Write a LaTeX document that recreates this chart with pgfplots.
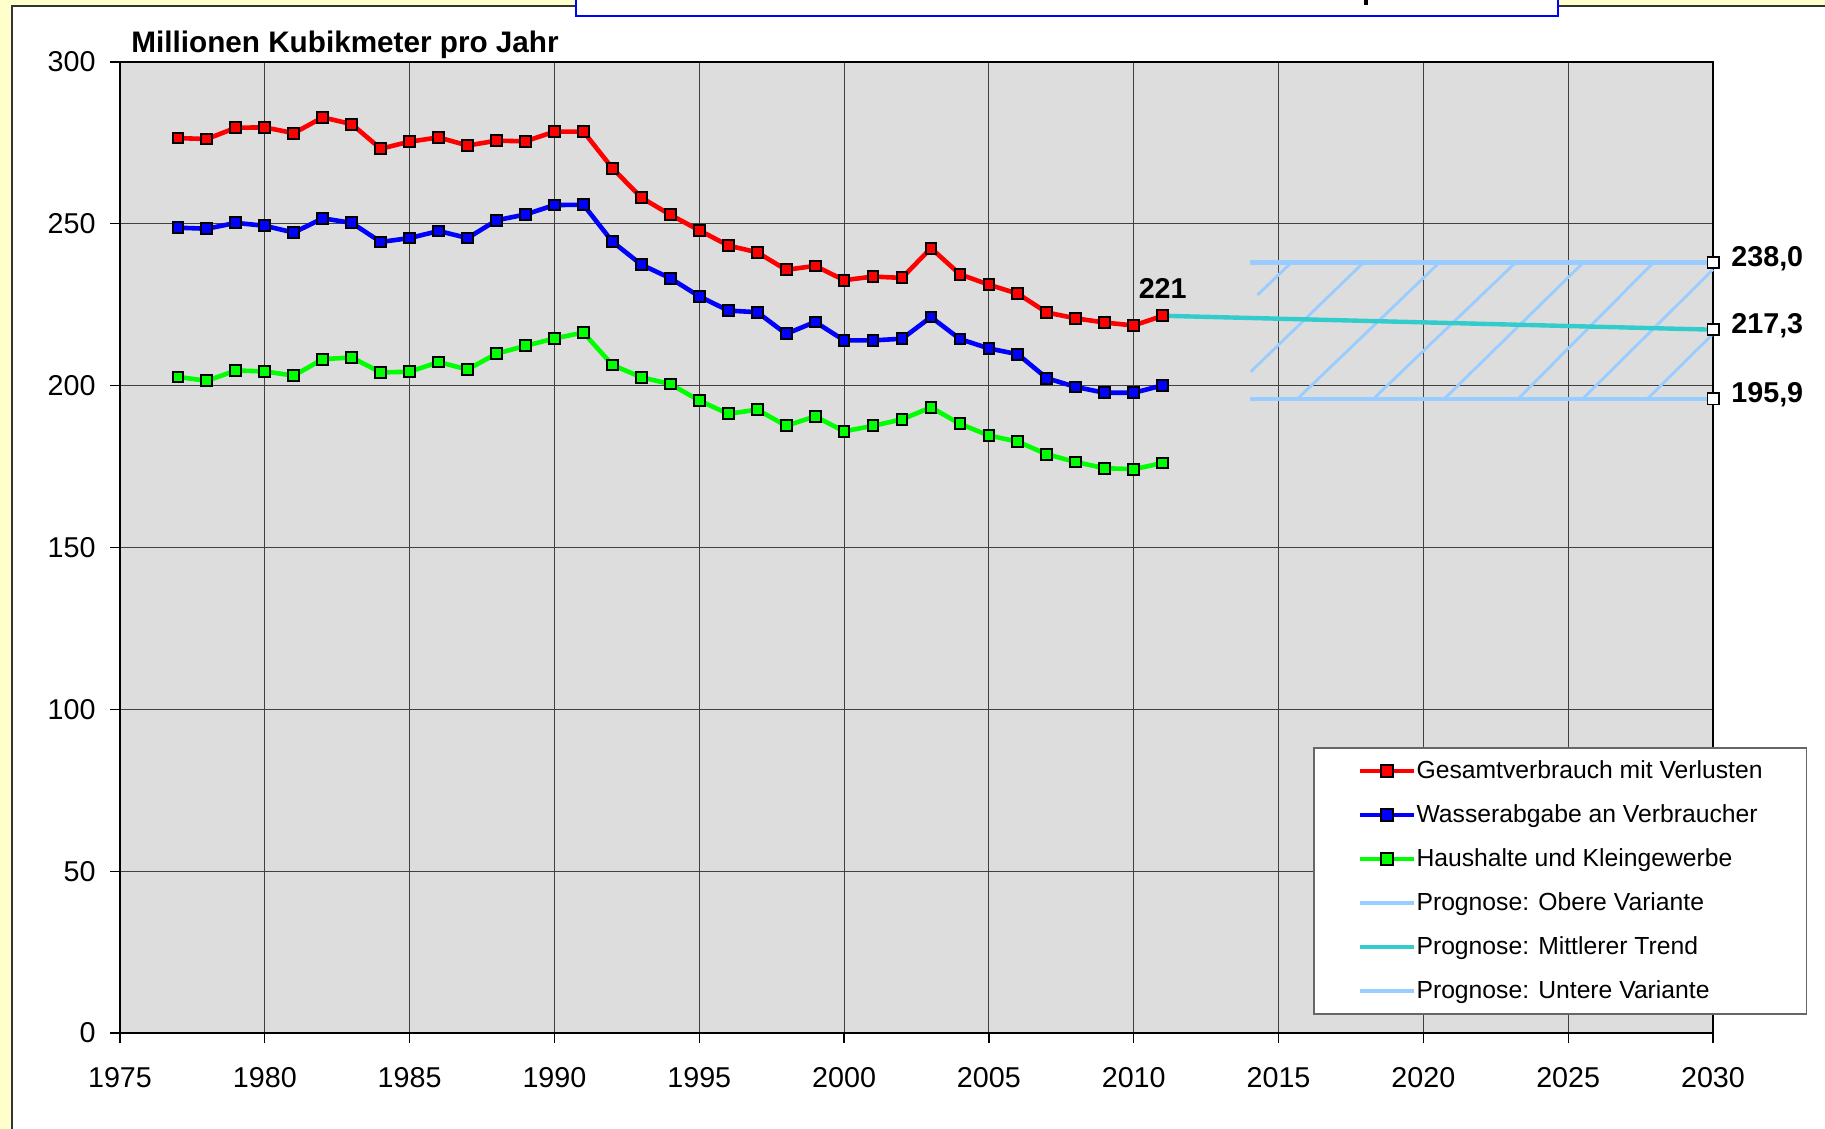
\documentclass[border=0pt]{standalone}
\usepackage{fontspec}
\setmainfont{Liberation Sans}
\usepackage{pgfplots}
\usepackage{pgfplotstable}
\pgfplotsset{compat=1.18}
\definecolor{bgyellow}{HTML}{FFFFCC}
\definecolor{plotgray}{HTML}{DDDDDD}
\definecolor{lblue}{HTML}{99CCFF}
\definecolor{trendc}{HTML}{33CCCC}
\definecolor{boxblue}{HTML}{0000FF}
\definecolor{sred}{HTML}{FF0000}
\definecolor{sblue}{HTML}{0000FF}
\definecolor{sgreen}{HTML}{00FF00}

\pgfplotstableread{
year ges abg hh
1977 276.5 248.8 202.7
1978 276.2 248.5 201.5
1979 279.7 250.3 204.7
1980 279.8 249.4 204.4
1981 278.0 247.3 203.1
1982 282.9 251.7 208.2
1983 280.8 250.3 208.7
1984 273.2 244.4 204.1
1985 275.4 245.6 204.3
1986 276.7 247.8 207.3
1987 274.2 245.6 205.0
1988 275.7 251.1 209.9
1989 275.5 252.9 212.3
1990 278.5 255.8 214.6
1991 278.5 255.9 216.4
1992 267.2 244.5 206.4
1993 258.1 237.4 202.6
1994 252.8 233.2 200.5
1995 248.0 227.6 195.4
1996 243.3 223.2 191.3
1997 241.2 222.7 192.6
1998 235.8 216.0 187.6
1999 237.0 219.7 190.5
2000 232.6 214.0 185.9
2001 233.7 214.0 187.6
2002 233.3 214.5 189.6
2003 242.5 221.2 193.3
2004 234.4 214.4 188.2
2005 231.2 211.5 184.6
2006 228.4 209.7 182.7
2007 222.6 202.3 178.8
2008 220.8 199.6 176.4
2009 219.5 197.8 174.5
2010 218.6 197.8 174.2
2011 221.6 200.1 176.1
}\datatable

\begin{document}
\begin{tikzpicture}
\useasboundingbox (0bp,0bp) rectangle (912.5bp,-564.5bp);
\begin{scope}[x=0.5bp,y=-0.5bp]
\fill[bgyellow] (0,0) rectangle (1825,1129);
\fill[white] (12,6) rectangle (1825,1129);
\draw[black!80, line width=0.8bp] (12,1129) -- (12,6) -- (1825,6);
\fill[white] (576,0) rectangle (1558,16);
\draw[boxblue, line width=1bp] (576,0) -- (576,16) -- (1558,16) -- (1558,0);
\fill[black] (1364,0) rectangle (1368,5);
\node[anchor=base west, inner sep=0pt, font=\fontsize{14.9}{17}\selectfont\bfseries] at (131,52) {Millionen Kubikmeter pro Jahr};
\end{scope}
\begin{axis}[
  at={(60bp,-516.5bp)}, anchor=south west,
  scale only axis, width=796.5bp, height=485.5bp,
  xmin=1975, xmax=2030, ymin=0, ymax=300,
  xtick={1975,1980,...,2030}, ytick={0,50,...,300},
  /pgf/number format/1000 sep={},
  /pgf/number format/assume math mode=true,
  tick label style={font=\fontsize{14.4}{17}\selectfont},
  xtick pos=bottom, ytick pos=left, tick align=outside,
  major tick length=5bp,
  tick style={black, line width=0.6bp},
  grid=major, major grid style={black!75, line width=0.5bp},
  axis line style={black, line width=1.2bp},
  axis background/.style={fill=plotgray},
  yticklabel style={inner sep=0pt, xshift=-7bp},
  xticklabel style={inner sep=0pt, yshift=-12bp},
  clip=false,
  legend cell align=left,
  legend image code/.code={\draw[mark repeat=2,mark phase=2,#1,mark size=3.1bp] plot coordinates {(0bp,0bp) (13.5bp,0bp) (27bp,0bp)};},
  legend style={at={(0.749,0.2945)}, anchor=north west, draw=black!60, line width=0.8bp, fill=white,
     font=\fontsize{12.4}{15}\selectfont, inner xsep=22bp, inner ysep=5.5bp, row sep=10bp, column sep=0bp,
     nodes={inner sep=0pt, text height=10bp, text depth=2bp}},
]
% hatch lines of the forecast band
\addplot[lblue, line width=1.4bp, forget plot] coordinates {(2014.27,228.0) (2015.44,238)};
\addplot[lblue, line width=1.4bp, forget plot] coordinates {(2014.04,204.3) (2017.93,238)};
\addplot[lblue, line width=1.4bp, forget plot] coordinates {(2015.65,195.9) (2020.55,238)};
\addplot[lblue, line width=1.4bp, forget plot] coordinates {(2018.27,195.9) (2023.18,238)};
\addplot[lblue, line width=1.4bp, forget plot] coordinates {(2020.72,195.9) (2025.52,238)};
\addplot[lblue, line width=1.4bp, forget plot] coordinates {(2023.27,195.9) (2027.94,238)};
\addplot[lblue, line width=1.4bp, forget plot] coordinates {(2025.50,195.9) (2030,235.9)};
\addplot[lblue, line width=1.4bp, forget plot] coordinates {(2027.73,195.9) (2030,216.0)};
% forecast lines
\addplot[lblue, line width=2.2bp, forget plot] coordinates {(2014,238.0) (2030,238.0)};
\addplot[lblue, line width=2.2bp, forget plot] coordinates {(2014,195.9) (2030,195.9)};
\addplot[trendc, line width=2.2bp, forget plot] coordinates {(2011,221.6) (2030,217.3)};
\addplot[only marks, mark=square*, mark size=2.8bp, mark options={fill=white, draw=black, line width=0.9bp}, forget plot]
  coordinates {(2030,238.0) (2030,217.3) (2030,195.9)};
% measured series
\addplot[sred, line width=2.3bp, mark=square*, mark size=2.7bp, mark options={solid, fill=sred, draw=black, line width=1bp}]
  table[x=year, y=ges] {\datatable};
\addlegendentry{Gesamtverbrauch mit Verlusten}
\addplot[sblue, line width=2.3bp, mark=square*, mark size=2.7bp, mark options={solid, fill=sblue, draw=black, line width=1bp}]
  table[x=year, y=abg] {\datatable};
\addlegendentry{Wasserabgabe an Verbraucher}
\addplot[sgreen, line width=2.3bp, mark=square*, mark size=2.7bp, mark options={solid, fill=sgreen, draw=black, line width=1bp}]
  table[x=year, y=hh] {\datatable};
\addlegendentry{Haushalte und Kleingewerbe}
\addlegendimage{lblue, line width=2.2bp}
\addlegendentry{Prognose: Obere Variante}
\addlegendimage{trendc, line width=2.2bp}
\addlegendentry{Prognose: Mittlerer Trend}
\addlegendimage{lblue, line width=2.2bp}
\addlegendentry{Prognose: Untere Variante}
% value labels
\node[anchor=base, inner sep=0pt, font=\fontsize{14.4}{17}\selectfont\bfseries] at (axis cs:2011,226.8) {221};
\node[anchor=west, inner sep=0pt, xshift=9bp, yshift=2bp, font=\fontsize{14.4}{17}\selectfont\bfseries] at (axis cs:2030,238.0) {238,0};
\node[anchor=west, inner sep=0pt, xshift=9bp, yshift=2bp, font=\fontsize{14.4}{17}\selectfont\bfseries] at (axis cs:2030,217.3) {217,3};
\node[anchor=west, inner sep=0pt, xshift=9bp, yshift=2bp, font=\fontsize{14.4}{17}\selectfont\bfseries] at (axis cs:2030,195.9) {195,9};
\end{axis}
\end{tikzpicture}
\end{document}
